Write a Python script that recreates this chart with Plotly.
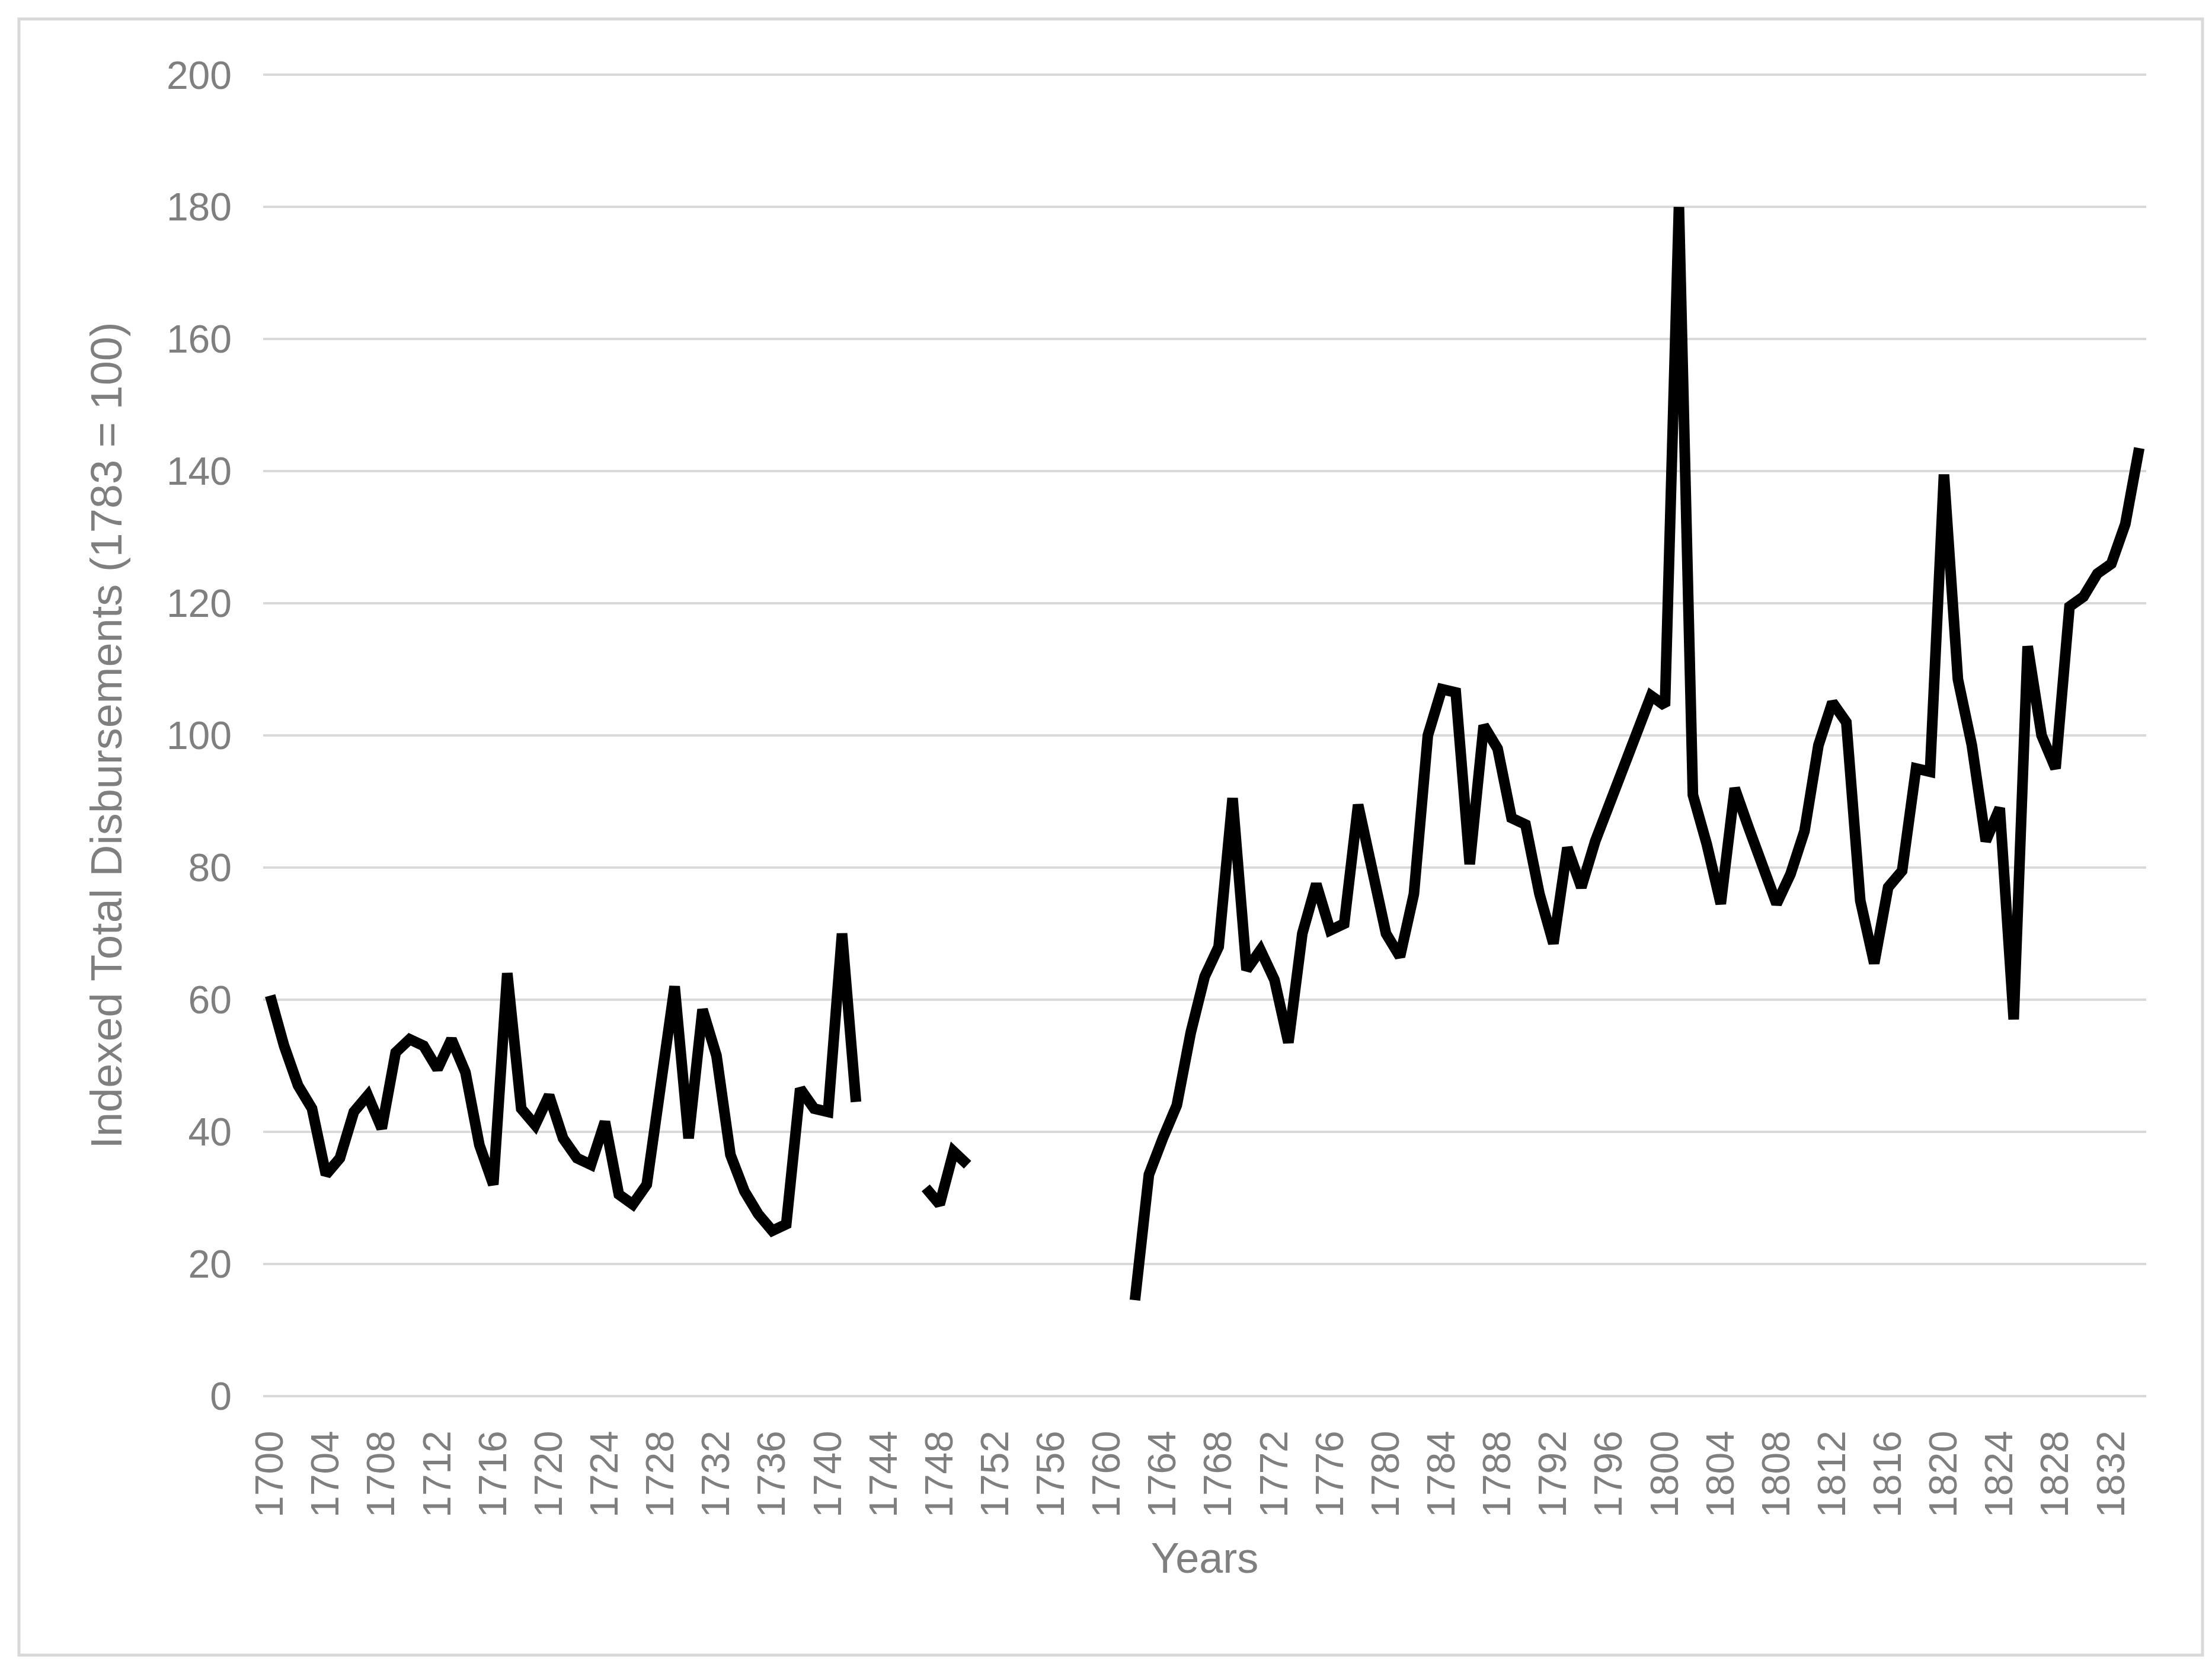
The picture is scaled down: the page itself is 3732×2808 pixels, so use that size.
import plotly.graph_objects as go

# years 1700..1834, gaps where no data
years = list(range(1700, 1835))

early = [60.6, 53, 47, 43.5, 33.5, 36, 43, 45.5, 40.5, 52,
         54, 53, 49.5, 54, 49, 38, 32, 64, 43.5, 41,
         45.5, 39, 36, 35, 41.5, 30.5, 29, 32, 47, 62,
         39, 58.5, 51.5, 36.5, 31, 27.5, 25, 26, 46.5, 43.5,
         43, 70, 44.5]                      # 1700-1742
gap1 = [None] * 4                            # 1743-1746
mid = [31.5, 29, 37, 35]                     # 1747-1750
gap2 = [None] * 11                           # 1751-1761
late = [14.5, 33.5, 39, 44, 55, 63.5, 68, 90.5, 64.5, 67.5,
        63, 53.5, 70, 77.5, 70.5, 71.5, 89.5, 80, 70, 66.5,
        76, 100, 107, 106.5, 80.5, 101.5, 98, 87.5, 86.5, 76,
        68.5, 83, 77, 84, 89.5, 94.5, 99.5, 106, 104.5, 180,
        91, 83.5, 74.5, 92, 86, 80, 74.5, 79, 85.5, 98.5,
        105, 102, 75, 65.5, 77, 79.5, 95, 94.5, 139.5, 108.5,
        98.5, 84, 89, 57, 113.5, 100, 95, 119.5, 121, 124.5,
        126, 132, 143.5]                     # 1762-1834
values = early + gap1 + mid + gap2 + late

tick_years = list(range(1700, 1834, 4))
y_ticks = list(range(0, 201, 20))

grey = '#7f7f7f'
font_name = 'Liberation Sans, Arial, sans-serif'

fig = go.Figure()
fig.add_scatter(x=years, y=values, mode='lines', connectgaps=False,
                line=dict(color='black', width=18), showlegend=False)

fig.update_layout(
    width=3732, height=2808,
    margin=dict(l=436, r=119, t=114, b=456),
    plot_bgcolor='white', paper_bgcolor='white',
    font=dict(family=font_name, color=grey, size=66),
)

fig.update_xaxes(range=[1699.5, 1834.5], tickvals=tick_years,
                 ticktext=[str(t) for t in tick_years], tickangle=-90,
                 showgrid=False, zeroline=False, showline=False, ticks='',
                 tickfont=dict(size=66, color=grey), ticklabelstandoff=40,
                 title=dict(text='Years', font=dict(size=72, color=grey), standoff=43))

fig.update_yaxes(range=[-0.4, 200.4], tickvals=y_ticks, showgrid=True,
                 gridcolor='#d9d9d9', gridwidth=4, zeroline=False,
                 showline=False, ticks='', tickfont=dict(size=66, color=grey),
                 ticklabelstandoff=52,
                 title=dict(text='Indexed Total Disbursements (1783 = 100)',
                            font=dict(size=74, color=grey), standoff=50))

# outer chart border
fig.add_shape(type='rect', xref='paper', yref='paper',
              x0=-0.1297, x1=1.0299, y0=-0.1935, y1=1.0402,
              line=dict(color='#d9d9d9', width=5), layer='below')

fig.write_html("out.html")
